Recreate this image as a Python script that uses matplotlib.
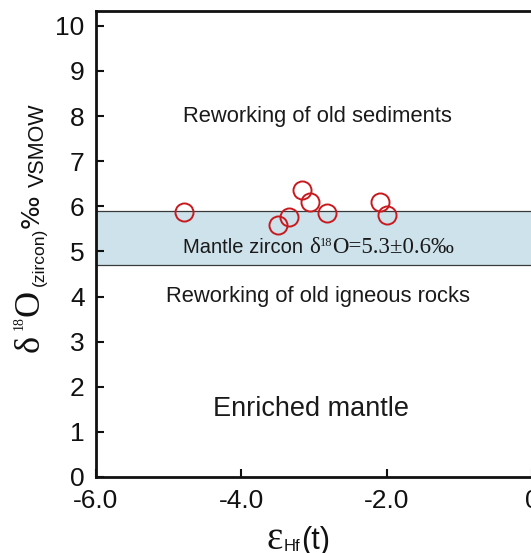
import matplotlib
matplotlib.use('Agg')
import matplotlib.pyplot as plt

plt.rcParams['font.family'] = ['Liberation Sans', 'DejaVu Sans']

# zircon eHf(t) vs d18O
eps_hf = [-4.79, -3.50, -3.35, -3.17, -3.05, -2.82, -2.09, -2.00]
d18o = [5.88, 5.58, 5.77, 6.37, 6.10, 5.86, 6.10, 5.81]

# mantle zircon reference value
mantle_mean = 5.3
mantle_err = 0.6

x_ticks = [-6.0, -4.0, -2.0, 0.0]
x_ticklabels = ['-6.0', '-4.0', '-2.0', '0']
y_ticks = list(range(0, 11))

W, H = 531, 553
fig = plt.figure(figsize=(W / 100, H / 100), dpi=100)
ax = fig.add_axes([95.7 / W, 76 / H, (532.3 - 95.7) / W, (542 - 76) / H])

ax.axhspan(mantle_mean - mantle_err, mantle_mean + mantle_err,
           facecolor='#cde2ea', edgecolor='#3a3a3a', lw=0.9, zorder=1)
ax.plot(eps_hf, d18o, 'o', ms=13, mfc='none', mec='#c8191e', mew=1.4,
        zorder=3, clip_on=False)

ax.set_xlim(-6, 0)
ax.set_ylim(0, 10.33)
ax.set_xticks(x_ticks)
ax.set_xticklabels(x_ticklabels)
ax.set_yticks(y_ticks)
ax.tick_params(direction='in', length=6, width=1.5, labelsize=19, pad=8,
               colors='#111111')
ax.tick_params(axis='x', pad=9)
for s in ax.spines.values():
    s.set_linewidth(2)
    s.set_color('#111111')

txt_kw = dict(ha='center', va='center', color='#1a1a1a', zorder=4)
ax.text(-2.95, 8.0, 'Reworking of old sediments', fontsize=15.8, **txt_kw)
ax.text(-2.95, 4.0, 'Reworking of old igneous rocks', fontsize=15.8, **txt_kw)
ax.text(-3.04, 1.5, 'Enriched mantle', fontsize=19.5, **txt_kw)

renderer = fig.canvas.get_renderer()
serif = 'Liberation Serif'
sans = 'Liberation Sans'


def draw_run(x, y, pieces):
    # horizontal run of text pieces sharing one baseline (pixels)
    pos = 0.0
    for txt, fam, size, rise in pieces:
        t = fig.text((x + pos) / W, (y + rise) / H, txt, family=fam,
                     fontsize=size, ha='left', va='baseline',
                     color='#1a1a1a', zorder=5)
        pos += t.get_window_extent(renderer).width


# band label inside the mantle zircon field
draw_run(183, 300, [
    ('Mantle zircon ', sans, 14.5, 0),
    ('δ', serif, 16.5, 0),
    ('18', serif, 9, 7),
    ('O=5.3±0.6‰', serif, 16.5, 0),
])

# y label, rotated pieces placed by baseline x and start y (pixels)
ylabel_parts = [
    ('δ', serif, 26, 39, 201),
    ('18', serif, 10, 23, 223),
    ('O', serif, 26, 39, 237),
    ('(zircon)', sans, 12.5, 44, 267),
    ('‰', 'DejaVu Sans', 18, 39, 325),
    ('VSMOW', sans, 15.5, 44, 366),
]
for txt, fam, size, bx, by in ylabel_parts:
    fig.text(bx / W, by / H, txt, family=fam, fontsize=size, rotation=90,
             rotation_mode='anchor', ha='left', va='baseline',
             color='#111111')

# x label pieces: text, family, size, start x, baseline y (pixels)
xlabel_parts = [
    ('ε', serif, 28, 266, 4),
    ('Hf', sans, 12, 284, 2),
    ('(t)', sans, 22, 301, 4),
]
for txt, fam, size, bx, by in xlabel_parts:
    fig.text(bx / W, by / H, txt, family=fam, fontsize=size,
             ha='left', va='baseline', color='#111111')

fig.savefig('out.png', dpi=100)
